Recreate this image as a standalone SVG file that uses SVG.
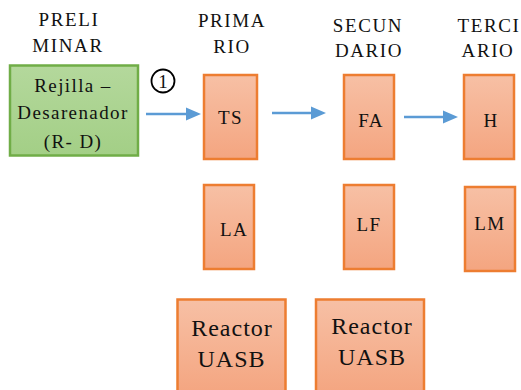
<svg xmlns="http://www.w3.org/2000/svg" width="521" height="390" viewBox="0 0 521 390">
<defs>
<linearGradient id="og" x1="0" y1="0" x2="0" y2="1"><stop offset="0" stop-color="#F7C0A5"/><stop offset="1" stop-color="#F4A580"/></linearGradient>
<linearGradient id="gg" x1="0" y1="0" x2="0" y2="1"><stop offset="0" stop-color="#B4D89C"/><stop offset="1" stop-color="#A3CF86"/></linearGradient>
</defs>
<style>
.t,.b,.r{fill:#111;text-anchor:middle;font-family:'Liberation Serif','Times New Roman',serif}
.t{font-size:19px;letter-spacing:1.6px}
.b{font-size:19px;letter-spacing:1.4px}
.r{font-size:24px;letter-spacing:1px}
.o{fill:url(#og);stroke:#ED7D31;stroke-width:2.5}
.g{fill:url(#gg);stroke:#70AD47;stroke-width:2.5}
.c line{stroke:#5B9BD5;stroke-width:2.5}
.c polygon{fill:#5B9BD5}
</style>
<g id="titles">
<text class="t" x="69" y="26">PRELI</text><text class="t" x="68" y="52">MINAR</text>
<text class="t" x="232" y="27">PRIMA</text><text class="t" x="232" y="53">RIO</text>
<text class="t" x="368" y="32">SECUN</text><text class="t" x="369" y="57">DARIO</text>
<text class="t" x="489" y="32">TERCI</text><text class="t" x="488" y="57">ARIO</text>
</g>
<g id="rd"><rect class="g" x="10" y="65.5" width="128" height="90"/>
<text class="b" x="73" y="92">Rejilla –</text><text class="b" x="73" y="119">Desarenador</text><text class="b" x="73" y="148">(R- D)</text></g>
<g id="n1"><circle cx="163" cy="81" r="11.5" fill="none" stroke="#000" stroke-width="1.8"/><text class="b" x="163.7" y="88">1</text></g>
<g id="ts"><rect class="o" x="204" y="75" width="53" height="84"/><text class="b" x="230.5" y="124">TS</text></g>
<g id="fa"><rect class="o" x="344" y="75" width="50" height="84"/><text class="b" x="371" y="127">FA</text></g>
<g id="h"><rect class="o" x="464" y="75" width="50" height="84"/><text class="b" x="491" y="127">H</text></g>
<g id="la"><rect class="o" x="204" y="185" width="50" height="84"/><text class="b" x="234" y="236">LA</text></g>
<g id="lf"><rect class="o" x="344" y="185" width="50" height="84"/><text class="b" x="369" y="231">LF</text></g>
<g id="lm"><rect class="o" x="465" y="187" width="50" height="84"/><text class="b" x="490" y="230">LM</text></g>
<g id="uasb1"><rect class="o" x="177.5" y="299.5" width="108" height="95"/><text class="r" x="232" y="336">Reactor</text><text class="r" x="231.5" y="367">UASB</text></g>
<g id="uasb2"><rect class="o" x="316" y="299.5" width="108" height="95"/><text class="r" x="372" y="334">Reactor</text><text class="r" x="372" y="365">UASB</text></g>
<g class="c" id="connectors">
<line x1="146" y1="114" x2="188" y2="114"/><polygon points="186,107.5 201,114 186,120.5"/>
<line x1="272" y1="113" x2="313" y2="113"/><polygon points="311,106.5 326,113 311,119.5"/>
<line x1="404" y1="117" x2="445" y2="117"/><polygon points="443,110.5 458,117 443,123.5"/>
</g>
</svg>
